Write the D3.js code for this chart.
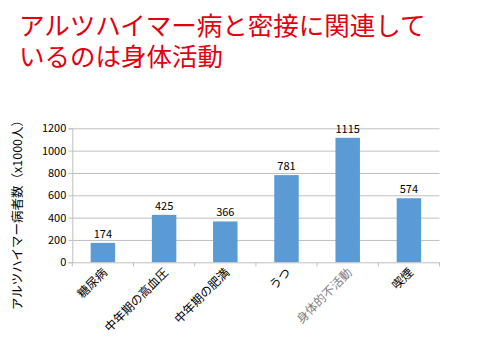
<!DOCTYPE html>
<html><head><meta charset="utf-8">
<script src="https://cdn.jsdelivr.net/npm/d3@7"></script>
<style>body{margin:0;background:#fff}svg{display:block}</style>
</head><body>
<svg id="c" width="480" height="360"></svg>
<script>
const categories = ["糖尿病","中年期の高血圧","中年期の肥満","うつ","身体的不活動","喫煙"];
const values = [174, 425, 366, 781, 1115, 574];
const yTicks = [0, 200, 400, 600, 800, 1000, 1200];
const titleLines = ["アルツハイマー病と密接に関連して","いるのは身体活動"];
const yTitle = "アルツハイマー病者数（x1000人）";

(function(){
const svg = d3.select("#c");
const font = "'Noto Sans CJK JP', 'Noto Sans', sans-serif";
const pLeft = 72.3, pRight = 439.5, pTop = 128.3, pBottom = 262.3;

const title = svg.append("text")
  .attr("font-family", font).attr("font-size", 25.5).attr("fill", "#E3000F");
title.selectAll("tspan").data(titleLines).enter().append("tspan")
  .attr("x", 19).attr("y", (d,i) => 35 + i*31)
  .text(d => d);

const x = d3.scaleBand().domain(categories).range([pLeft, pRight]).paddingInner(0.6).paddingOuter(0.3);
const xb = d3.scaleBand().domain(categories).range([pLeft, pRight]);
const y = d3.scaleLinear().domain([0, 1200]).range([pBottom, pTop]);

svg.append("g").selectAll("line").data(yTicks.slice(1)).enter().append("line")
  .attr("x1", pLeft).attr("x2", pRight).attr("y1", d => y(d)+0.5).attr("y2", d => y(d)+0.5)
  .attr("stroke", "#BFBFBF").attr("stroke-width", 1);

const yAxis = svg.append("g").attr("transform", `translate(${pLeft},0)`)
  .call(d3.axisLeft(y).tickValues(yTicks).tickFormat(d3.format("d")).tickSize(4).tickPadding(2));
yAxis.select(".domain").attr("stroke", "#BFBFBF");
yAxis.selectAll(".tick line").attr("stroke", "#BFBFBF");
yAxis.selectAll("text").attr("font-family", font).attr("font-size", 11).attr("fill", "#000");

svg.append("g").selectAll("rect").data(values).enter().append("rect")
  .attr("x", (d,i) => x(categories[i]))
  .attr("width", x.bandwidth())
  .attr("y", d => y(d))
  .attr("height", d => y(0) - y(d))
  .attr("fill", "#5B9BD5");

svg.append("g").selectAll("text").data(values).enter().append("text")
  .attr("x", (d,i) => x(categories[i]) + x.bandwidth()/2)
  .attr("y", d => y(d) - 5)
  .attr("text-anchor", "middle")
  .attr("font-family", font).attr("font-size", 11).attr("fill", "#000")
  .text(d => d);

const xAxis = svg.append("g").attr("transform", `translate(0,${pBottom})`)
  .call(d3.axisBottom(xb).tickSize(0).tickFormat(""));
xAxis.select(".domain").attr("stroke", "#BFBFBF");
svg.append("g").selectAll("line").data(d3.range(categories.length+1)).enter().append("line")
  .attr("x1", i => pLeft + i*xb.bandwidth()).attr("x2", i => pLeft + i*xb.bandwidth())
  .attr("y1", pBottom).attr("y2", pBottom+4).attr("stroke", "#BFBFBF");

svg.append("g").selectAll("text").data(categories).enter().append("text")
  .attr("transform", d => `translate(${xb(d)+xb.bandwidth()/2+5},${pBottom+11}) rotate(-45)`)
  .attr("text-anchor", "end")
  .attr("font-family", font).attr("font-size", 12)
  .attr("fill", (d,i) => i === 4 ? "#7F7F7F" : "#000")
  .text(d => d);

svg.append("text")
  .attr("transform", `translate(22,212) rotate(-90)`)
  .attr("text-anchor", "middle")
  .attr("font-family", font).attr("font-size", 12.5).attr("fill", "#000")
  .text(yTitle);
})();
</script>
</body></html>
